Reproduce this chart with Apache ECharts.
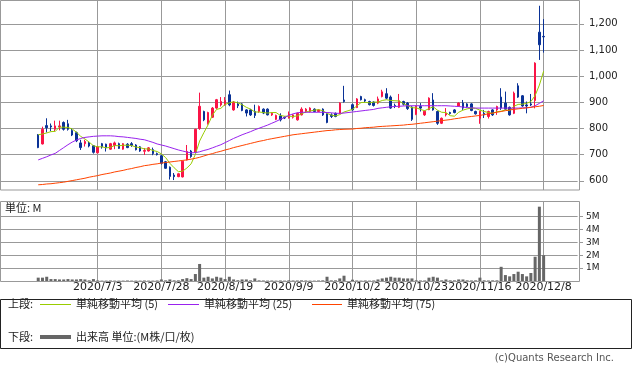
<!DOCTYPE html>
<html><head><meta charset="utf-8">
<script src="https://cdn.jsdelivr.net/npm/echarts@6/dist/echarts.min.js"></script>
<style>html,body{margin:0;padding:0;background:#fff;}#c{width:633px;height:374px;}</style>
</head><body><div id="c"></div>
<script>
const dates = ['6/15','6/16','6/17','6/18','6/19','6/22','6/23','6/24','6/25','6/26',
'6/29','6/30','7/1','7/2','7/3','7/6','7/7','7/8','7/9','7/10',
'7/13','7/14','7/15','7/16','7/17','7/20','7/21','7/22','7/27','7/28',
'7/29','7/30','7/31','8/3','8/4','8/5','8/6','8/7','8/11','8/12',
'8/13','8/14','8/17','8/18','8/19','8/20','8/21','8/24','8/25','8/26',
'8/27','8/28','8/31','9/1','9/2','9/3','9/4','9/7','9/8','9/9',
'9/10','9/11','9/14','9/15','9/16','9/17','9/18','9/23','9/24','9/25',
'9/28','9/29','9/30','10/1','10/2','10/5','10/6','10/7','10/8','10/9',
'10/12','10/13','10/14','10/15','10/16','10/19','10/20','10/21','10/22','10/23',
'10/26','10/27','10/28','10/29','10/30','11/2','11/4','11/5','11/6','11/9',
'11/10','11/11','11/12','11/13','11/16','11/17','11/18','11/19','11/20','11/24',
'11/25','11/26','11/27','11/30','12/1','12/2','12/3','12/4','12/7','12/8'];

const opens = [776,741,811,810,797,806,823,818,792,784,
745,742,745,734,707,742,740,721,735,742,
721,740,742,737,730,713,714,719,704,696,
673,652,622,616,615,680,714,710,800,865,
818,843,878,890,890,929,871,894,894,871,
871,865,865,874,874,852,835,848,843,840,
843,833,852,865,865,874,865,874,856,852,
858,858,909,null,891,880,922,910,903,901,
897,922,933,920,888,881,903,897,882,854,
884,852,872,909,865,820,852,861,871,886,
897,894,894,865,839,858,846,871,871,920,
897,881,858,963,925,890,894,907,1168,1152];

const closes = [727,797,803,806,810,810,797,797,775,753,
727,750,733,709,730,730,727,742,745,724,
742,727,735,719,714,716,726,704,700,667,
648,617,616,627,675,712,693,797,885,833,
861,878,910,903,907,890,901,887,869,859,
852,850,884,859,852,858,850,833,840,855,
852,858,874,874,878,865,871,852,823,846,
846,897,903,null,871,913,910,905,891,888,
913,940,916,878,884,906,893,876,835,885,
878,866,916,871,820,839,858,857,861,897,
878,884,869,856,865,852,865,852,884,878,
874,852,935,920,886,886,890,1050,1120,1150];

const lows = [725,739,785,790,790,793,792,792,771,748,
718,731,728,704,705,723,712,719,721,722,
719,725,730,716,711,699,712,698,697,662,
646,605,603,614,613,678,688,706,795,828,
815,840,875,884,887,885,868,878,866,846,
848,840,860,855,850,848,832,827,836,838,
838,830,850,860,862,862,862,848,820,840,
843,855,899,null,868,878,907,900,888,884,
893,919,912,875,878,878,888,871,829,851,
865,848,870,868,814,817,846,853,858,884,
871,880,866,853,818,840,838,848,852,871,
871,849,855,917,883,858,886,877,1062,1090];

const highs = [779,807,839,819,830,830,827,833,801,788,
757,757,749,737,733,745,742,745,750,746,
744,744,748,740,733,725,729,727,708,699,
676,655,630,629,677,737,718,799,937,868,
864,882,913,920,920,945,905,903,897,874,
875,891,888,877,877,862,853,858,846,865,
855,861,881,878,881,877,874,877,858,858,
861,900,963,null,895,916,925,914,906,904,
922,948,954,926,895,932,906,901,885,888,
897,869,919,935,868,842,878,864,874,900,
909,897,897,868,868,871,868,874,887,954,
941,884,941,973,928,903,932,1053,1269,1218];

const volumes = [0.26,0.26,0.33,0.15,0.15,0.12,0.12,0.15,0.12,0.12,
0.15,0.12,0.05,0.15,0.04,0.03,0.03,0.04,0.03,0.03,
0.03,0.04,0.03,0.03,0.03,0.04,0.03,0.03,0.04,0.12,
0.05,0.12,0.05,0.05,0.15,0.22,0.15,0.54,1.32,0.26,
0.33,0.2,0.33,0.26,0.15,0.33,0.12,0.06,0.12,0.12,
0.05,0.2,0.05,0.04,0.03,0.04,0.03,0.04,0.03,0.05,
0.04,0.04,0.05,0.04,0.03,0.03,0.04,0.05,0.33,0.05,
0.05,0.2,0.41,null,0.1,0.04,0.03,0.04,0.03,0.04,
0.12,0.2,0.26,0.33,0.26,0.26,0.2,0.2,0.2,0.05,
0.04,0.04,0.26,0.33,0.26,0.05,0.12,0.05,0.05,0.12,
0.12,0.05,0.04,0.05,0.26,0.05,0.04,0.05,0.05,1.1,
0.46,0.36,0.54,0.72,0.54,0.36,0.62,1.88,5.76,2.0];

const ma5 = [776,779,783,788,789,805,805,804,798,786,
770,760,748,734,730,730,726,728,735,734,
736,736,735,729,727,722,722,716,712,703,
689,667,650,635,637,649,665,701,752,784,
814,851,873,877,892,898,902,898,891,881,
874,863,863,861,859,861,861,850,847,847,
846,848,856,863,867,870,872,868,858,851,
848,853,863,null,873,886,899,900,898,901,
901,907,910,907,906,905,895,887,879,879,
873,868,876,883,870,862,861,849,847,862,
870,875,878,877,870,865,861,858,864,866,
871,868,885,892,893,896,903,926,966,1019];

const ma25 = [680,686,692,699,705,716,727,738,748,756,
762,766,768,770,771,772,772,772,771,769,
768,766,764,762,759,757,752,747,741,737,
733,728,723,718,714,710,707,708,711,716,
720,726,732,738,746,754,762,769,776,782,
788,795,801,807,813,820,827,835,842,850,
856,860,862,862,862,862,862,862,861,860,
858,858,859,null,863,865,867,869,871,873,
877,879,881,883,884,885,886,887,887,887,
887,887,887,887,887,887,887,886,885,884,
882,880,879,878,878,878,878,878,878,878,
878,878,878,878,879,879,881,887,896,906];

const ma75 = [585,586,588,589,591,593,595,598,601,604,
607,610,614,617,620,624,627,630,634,637,
640,644,647,651,654,658,660,663,665,668,
670,672,674,676,678,680,683,686,690,695,
700,704,709,713,718,722,727,731,735,739,
743,747,751,754,758,761,764,767,770,773,
776,778,780,782,784,786,788,790,792,793,
795,796,797,null,798,800,801,803,804,805,
807,808,809,810,811,812,813,815,816,818,
820,822,824,826,828,830,832,834,837,839,
842,844,846,848,850,853,856,859,862,865,
868,871,873,875,877,879,881,883,885,888];

const priceTicks = [600,700,800,900,1000,1100,1200];
const volumeTicks = [1,2,3,4,5];
const labelDates = ['7/3','7/28','8/19','9/9','10/2','10/23','11/16','12/8'];

// layout: blank slots before and after the trading days
const PAD_L = 9, PAD_R = 8;
const cats = [];
for (let k = 0; k < PAD_L; k++) cats.push('padL' + k);
dates.forEach(d => cats.push('2020/' + d));
for (let k = 0; k < PAD_R; k++) cats.push('padR' + k);
const labelIdx = new Set(labelDates.map(d => PAD_L + dates.indexOf(d)));

const candleData = [], volData = [], l5 = [], l25 = [], l75 = [];
dates.forEach((d, i) => {
  const k = PAD_L + i;
  if (opens[i] != null) candleData.push([k, opens[i], closes[i], lows[i], highs[i]]);
  if (volumes[i] != null) volData.push([k, volumes[i]]);
  if (ma5[i] != null) l5.push([k, ma5[i]]);
  if (ma25[i] != null) l25.push([k, ma25[i]]);
  if (ma75[i] != null) l75.push([k, ma75[i]]);
});

const GRID_W = 577.6;
const gridColor = '#999999';
const RED = '#fa1446', BLUE = '#0a3296';
const C5 = '#99cc00', C25 = '#9922ee', C75 = '#ff4400';
const txt = '#222';
const FONT = 'DejaVu Sans';

const chart = echarts.init(document.getElementById('c'), null, {renderer: 'canvas'});
const splitIntervalFn = (idx) => labelIdx.has(idx);

chart.setOption({
  animation: false,
  backgroundColor: '#fff',
  grid: [
    {left: 0, top: 0, width: GRID_W, height: 190},
    {left: 0, top: 201, width: GRID_W, height: 80}
  ],
  xAxis: [
    {gridIndex: 0, type: 'category', data: cats, boundaryGap: false,
     axisLine: {show: false}, axisTick: {show: false}, axisLabel: {show: false},
     splitLine: {show: true, interval: splitIntervalFn, lineStyle: {color: gridColor, width: 1}}},
    {gridIndex: 1, type: 'category', data: cats, boundaryGap: false,
     axisLine: {show: false}, axisTick: {show: false},
     axisLabel: {show: true, interval: splitIntervalFn, color: txt, fontSize: 11, fontFamily: FONT, margin: 1,
                 hideOverlap: false},
     splitLine: {show: true, interval: splitIntervalFn, lineStyle: {color: gridColor, width: 1}}}
  ],
  yAxis: [
    {gridIndex: 0, type: 'value', position: 'right', min: 565, max: 1291, offset: 1.4,
     axisLine: {show: false},
     axisTick: {show: true, length: 5, lineStyle: {color: gridColor}, customValues: priceTicks},
     axisLabel: {customValues: priceTicks, color: txt, fontSize: 10, fontFamily: FONT, margin: 10,
                 formatter: v => Number(v).toLocaleString('en-US')},
     splitLine: {show: true, lineStyle: {color: gridColor, width: 1}}},
    {gridIndex: 1, type: 'value', position: 'right', min: 0, max: 6.2, offset: 1.4,
     axisLine: {show: false},
     axisTick: {show: true, length: 4, lineStyle: {color: gridColor}, customValues: volumeTicks},
     axisLabel: {customValues: volumeTicks, color: txt, fontSize: 9, fontFamily: FONT, margin: 7,
                 formatter: v => v + 'M'},
     splitLine: {show: true, lineStyle: {color: gridColor, width: 1}}}
  ],
  series: [
    {name: '株価', type: 'candlestick', xAxisIndex: 0, yAxisIndex: 0, data: candleData,
     encode: {x: 0, y: [1, 2, 3, 4]}, barWidth: 2,
     itemStyle: {color: RED, color0: BLUE, borderColor: RED, borderColor0: BLUE, borderWidth: 1}, z: 3},
    {name: '単純移動平均 (5)', type: 'line', xAxisIndex: 0, yAxisIndex: 0, data: l5, symbol: 'none',
     lineStyle: {color: C5, width: 1}, z: 4},
    {name: '単純移動平均 (25)', type: 'line', xAxisIndex: 0, yAxisIndex: 0, data: l25, symbol: 'none',
     lineStyle: {color: C25, width: 1}, z: 4},
    {name: '単純移動平均 (75)', type: 'line', xAxisIndex: 0, yAxisIndex: 0, data: l75, symbol: 'none',
     lineStyle: {color: C75, width: 1}, z: 4},
    {name: '出来高', type: 'bar', xAxisIndex: 1, yAxisIndex: 1, data: volData, barWidth: 3,
     itemStyle: {color: '#666666'}}
  ],
  graphic: [
    {type: 'rect', shape: {x: 0.5, y: 0.5, width: 579, height: 189.5}, style: {fill: 'none', stroke: gridColor, lineWidth: 1}, z: 10, silent: true},
    {type: 'rect', shape: {x: 0.5, y: 201.5, width: 579, height: 80}, style: {fill: 'none', stroke: gridColor, lineWidth: 1}, z: 10, silent: true},
    {type: 'text', left: 5, top: 202, style: {text: '単位: M', fill: txt, font: '11px "Noto Sans CJK JP"'}, z: 11},
    {type: 'rect', shape: {x: 0.5, y: 299.5, width: 631, height: 49}, style: {fill: 'none', stroke: '#222', lineWidth: 1}, z: 10, silent: true},
    {type: 'text', x: 8, y: 304, style: {text: '上段:', fill: txt, font: '11px "Noto Sans CJK JP"', verticalAlign: 'middle'}},
    {type: 'line', shape: {x1: 40, y1: 304.5, x2: 71, y2: 304.5}, style: {stroke: C5, lineWidth: 1}},
    {type: 'text', x: 76, y: 304, style: {text: '単純移動平均 (5)', fill: txt, font: '11px "Noto Sans CJK JP"', verticalAlign: 'middle'}},
    {type: 'line', shape: {x1: 168, y1: 304.5, x2: 199, y2: 304.5}, style: {stroke: C25, lineWidth: 1}},
    {type: 'text', x: 204, y: 304, style: {text: '単純移動平均 (25)', fill: txt, font: '11px "Noto Sans CJK JP"', verticalAlign: 'middle'}},
    {type: 'line', shape: {x1: 312, y1: 304.5, x2: 342, y2: 304.5}, style: {stroke: C75, lineWidth: 1}},
    {type: 'text', x: 347, y: 304, style: {text: '単純移動平均 (75)', fill: txt, font: '11px "Noto Sans CJK JP"', verticalAlign: 'middle'}},
    {type: 'text', x: 8, y: 337, style: {text: '下段:', fill: txt, font: '11px "Noto Sans CJK JP"', verticalAlign: 'middle'}},
    {type: 'line', shape: {x1: 40, y1: 337, x2: 71, y2: 337}, style: {stroke: '#666666', lineWidth: 4}},
    {type: 'text', x: 76, y: 337, style: {text: '出来高 単位:(M株/口/枚)', fill: txt, font: '11px "Noto Sans CJK JP"', verticalAlign: 'middle'}},
    {type: 'text', x: 614, y: 358, style: {text: '(c)Quants Research Inc.', fill: '#555', font: '10px "DejaVu Sans"', align: 'right', verticalAlign: 'middle'}}
  ]
});
</script>
</body></html>
